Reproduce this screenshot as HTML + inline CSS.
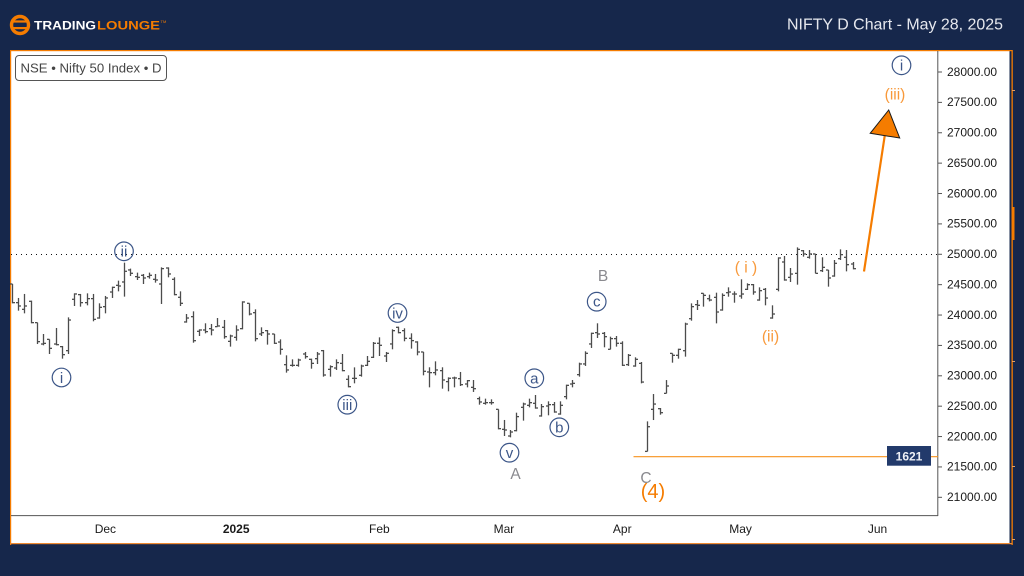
<!DOCTYPE html>
<html lang="en">
<head>
<meta charset="utf-8">
<title>NIFTY D Chart - May 28, 2025</title>
<style>
html,body{margin:0;padding:0;width:1024px;height:576px;overflow:hidden;background:#16274b}
svg{display:block}
text{font-family:"Liberation Sans",sans-serif}
</style>
</head>
<body>
<svg id="chart" xmlns="http://www.w3.org/2000/svg" width="1024" height="576" viewBox="0 0 1024 576">
  <rect x="0" y="0" width="1024" height="576" fill="#16274b"/>

  <g>
    <circle cx="20" cy="25" r="8.5" fill="#16274b" stroke="#f57c00" stroke-width="3.4"/>
    <rect x="11" y="20.4" width="18" height="2.2" fill="#f57c00"/>
    <rect x="11" y="27" width="18" height="2.2" fill="#f57c00"/>
    <text x="34" y="29.3" font-size="12" font-weight="700" fill="#ffffff" textLength="62" lengthAdjust="spacingAndGlyphs">TRADING</text>
    <text x="97" y="29.3" font-size="12" font-weight="700" fill="#f57c00" textLength="63" lengthAdjust="spacingAndGlyphs">LOUNGE</text>
    <text x="160.5" y="23" font-size="4" fill="#f57c00">TM</text>
  </g>
  <text x="787" y="29.5" font-size="16" fill="#e6e8ee" textLength="216" lengthAdjust="spacingAndGlyphs">NIFTY D Chart - May 28, 2025</text>

  <g>
    <rect x="1011.5" y="50" width="1.3" height="495" fill="#f57c00"/>
    <rect x="1011.5" y="207" width="3" height="33" fill="#f57c00"/>
    <rect x="1012" y="90" width="3" height="1" fill="#e8a060"/>
    <rect x="1012" y="361" width="3" height="1" fill="#e8a060"/>
    <rect x="1012" y="466" width="3" height="1" fill="#e8a060"/>
    <rect x="1012" y="539" width="3" height="1" fill="#e8a060"/>
  </g>

  <rect x="11" y="50.5" width="998.5" height="492.5" fill="#ffffff"/>
  <rect x="10" y="50" width="1002.5" height="1.2" fill="#f57c00"/>
  <rect x="10" y="50" width="1.2" height="495" fill="#f57c00"/>
  <rect x="10" y="543" width="1002.5" height="1.2" fill="#f08a30"/>

  <line x1="11" y1="254.5" x2="938" y2="254.5" stroke="#111" stroke-width="1" stroke-dasharray="1 4"/>

  <g id="bars"></g>

  <line x1="937.8" y1="51" x2="937.8" y2="516" stroke="#555" stroke-width="1"/>
  <line x1="11" y1="515.6" x2="938" y2="515.6" stroke="#555" stroke-width="1"/>
  <g id="yaxis"></g>
  <g id="xaxis"></g>

  <g>
    <rect x="15.5" y="55.5" width="151" height="25" rx="3.5" fill="#fff" stroke="#555" stroke-width="1"/>
    <text x="20.5" y="72.5" font-size="12.5" fill="#444" textLength="141" lengthAdjust="spacingAndGlyphs">NSE • Nifty 50 Index • D</text>
  </g>

  <line x1="633.5" y1="456.7" x2="938" y2="456.7" stroke="#f7931e" stroke-width="1.2"/>
  <rect x="887" y="446" width="44" height="19.7" fill="#223a6b"/>
  <text x="909" y="460.3" font-size="12" font-weight="700" fill="#eef0f5" text-anchor="middle">1621</text>

  <line x1="864" y1="271.5" x2="885" y2="134" stroke="#f57c00" stroke-width="2.2"/>
  <polygon points="888.7,110 870.2,133.3 899.7,138" fill="#f57c00" stroke="#1a1a1a" stroke-width="1"/>

  <g fill="none" stroke="#3c5688" stroke-width="1.2">
    <circle cx="61.5" cy="377.5" r="9.3"/>
    <circle cx="124" cy="251.3" r="9.3"/>
    <circle cx="347.3" cy="404.7" r="9.3"/>
    <circle cx="397.5" cy="313" r="9.3"/>
    <circle cx="509.5" cy="452.7" r="9.3"/>
    <circle cx="534.3" cy="378.3" r="9.3"/>
    <circle cx="559.3" cy="427.3" r="9.3"/>
    <circle cx="596.7" cy="301.7" r="9.3"/>
    <circle cx="901.5" cy="65.3" r="9.3"/>
  </g>
  <g fill="#3c5688" font-size="15" text-anchor="middle">
    <text x="61.5" y="382.8">i</text>
    <text x="124" y="256.6">ii</text>
    <text x="347.3" y="410">iii</text>
    <text x="397.5" y="318.3">iv</text>
    <text x="509.5" y="458">v</text>
    <text x="534.3" y="383.3">a</text>
    <text x="559.3" y="432.6">b</text>
    <text x="596.7" y="306.7">c</text>
    <text x="901.5" y="70.6">i</text>
  </g>
  <g fill="#f8993a" font-size="15.5" text-anchor="middle">
    <text x="746" y="272.5">( i )</text>
    <text x="770.5" y="341.5">(ii)</text>
    <text x="895" y="99.5">(iii)</text>
    <text x="653" y="498" font-size="20" fill="#f57c00">(4)</text>
  </g>
  <g fill="#8a8a8f" font-size="15.5" text-anchor="middle">
    <text x="515.5" y="479">A</text>
    <text x="603" y="281">B</text>
    <text x="646" y="483">C</text>
  </g>
</svg>

<script>
const opens = [24511,24204,24094,24226,23875,23523,23600,23523,23480,23414,24259,24336,24204,24270,23951,24138,24379,24489,24544,24742,24632,24654,24632,24588,24511,24774,24588,24292,23886,23973,23732,
23754,23776,23809,23798,23567,23633,23776,24193,24039,23688,23743,23688,23556,23183,23172,23172,23359,23271,23282,23414,23106,23128,23205,22942,22958,23008,23172,23304,23535,23326,23524,23798,
23743,23617,23557,23392,23063,23052,23085,22904,22964,22953,22865,22810,22624,22547,22558,22448,22119,22009,22097,22481,22514,22547,22339,22503,22525,22371,22657,22865,23019,23195,23524,23710,23699,23436,23612,23535,23184,23161,
23205,21756,22448,22459,22711,23369,23337,23413,23940,24171,24357,24269,24291,24083,24368,24346,24313,24423,24500,24247,24423,23951,24423,24873,24620,24686,25059,24950,25005,24730,24741,24642,24928,24950,24840];
const highs = [24511,24281,24347,24237,23875,23688,23600,23787,23491,23962,24357,24347,24357,24347,24193,24314,24467,24566,24862,24764,24698,24676,24698,24676,24785,24785,24621,24390,24017,24061,23765,
23864,23853,23951,23919,23677,23831,24226,24193,24094,23798,23754,23688,23600,23337,23271,23282,23392,23282,23392,23425,23172,23271,23359,23008,23139,23183,23326,23556,23633,23392,23765,23809,
23782,23699,23568,23392,23140,23238,23140,22975,22986,23063,22931,22931,22657,22624,22613,22448,22273,22108,22393,22558,22624,22684,22536,22580,22569,22580,22854,22931,23216,23403,23710,23864,23721,23644,23655,23568,23359,23304,
23227,22250,22700,22470,22930,23369,23446,23874,24192,24247,24357,24335,24368,24357,24456,24390,24588,24522,24511,24456,24445,24160,24950,24972,24774,25114,25070,25070,25005,24950,24741,24906,25081,25070,24873];
const lows = [24193,24072,24028,23864,23523,23502,23359,23502,23282,23359,24149,24138,24160,23897,23940,24028,24281,24390,24303,24643,24577,24511,24599,24533,24182,24621,24325,24149,23875,23545,23655,
23699,23666,23809,23611,23480,23578,23765,23995,23567,23655,23513,23524,23348,23052,23150,23150,23282,23117,23194,22986,22986,23096,23074,22810,22876,22986,23161,23293,23326,23227,23436,23699,
23568,23447,23337,23008,22810,23008,22788,22745,22810,22832,22810,22734,22525,22525,22525,22119,22009,21987,22086,22262,22481,22459,22328,22350,22393,22360,22613,22810,22986,23162,23458,23622,23469,23436,23480,23162,23162,23150,
22876,21756,22272,22360,22711,23216,23282,23315,23907,24083,24138,24225,23863,24072,24302,24203,24269,24412,24335,24236,24160,23940,24390,24566,24544,24500,24961,24928,24686,24708,24467,24631,24906,24719,24752];
const closes = [24204,24149,24149,23875,23562,23534,23452,23512,23348,23918,24347,24204,24270,23929,24127,24281,24456,24478,24720,24687,24621,24610,24654,24577,24764,24676,24336,24193,23951,23578,23754,
23727,23754,23820,23644,23655,23754,24215,24017,23611,23710,23688,23535,23436,23096,23172,23260,23315,23205,23359,23013,23150,23216,23085,22821,22958,23161,23238,23535,23502,23370,23743,23710,
23617,23579,23392,23074,23052,23096,22931,22959,22964,22854,22920,22788,22569,22558,22558,22130,22108,22075,22328,22536,22558,22470,22492,22525,22404,22514,22843,22876,23195,23370,23699,23688,23644,23612,23535,23173,23337,23271,
22897,22162,22535,22393,22832,23337,23435,23852,24138,24160,24324,24247,24050,24324,24379,24346,24346,24500,24379,24401,24280,24017,24939,24577,24675,25081,25005,25005,24686,24785,24610,24851,24994,24829,24763];

const yTickValues = [28000,27500,27000,26500,26000,25500,25000,24500,24000,23500,23000,22500,22000,21500,21000];
const xTickLabels = ["Dec","2025","Feb","Mar","Apr","May","Jun"];
const xTickBars = [15,36,59,79,98,117,139];

const SVGNS = "http://www.w3.org/2000/svg";
function xAt(i){ return 12 + i * 6.227; }
function yAt(p){ return 72 + (28000 - p) * 0.06076; }
function make(tag, attrs, parent){
  const el = document.createElementNS(SVGNS, tag);
  for (const k in attrs) el.setAttribute(k, attrs[k]);
  parent.appendChild(el);
  return el;
}

const barsG = document.getElementById("bars");
opens.forEach(function(o, i){
  const x = Math.round(xAt(i)) + 0.5;
  const g = make("g", {stroke:"#4c4c4c", "stroke-width":"1.3"}, barsG);
  
  
  make("line", {x1:x, x2:x, y1:yAt(highs[i]), y2:yAt(lows[i])}, g);
  make("line", {x1:x-2.5, x2:x, y1:yAt(o), y2:yAt(o)}, g);
  make("line", {x1:x, x2:x+2.5, y1:yAt(closes[i]), y2:yAt(closes[i])}, g);
});

const yG = document.getElementById("yaxis");
yTickValues.forEach(function(v){
  const y = yAt(v);
  const t = make("line", {x1:938, x2:942, y1:y, y2:y, stroke:"#555", "stroke-width":"1"}, yG);
  
  
  const l = make("text", {x:947, y:y+3.8, "font-size":"12", fill:"#1a1a1a"}, yG);
  
  
  l.textContent = v.toFixed(2);
});

const xG = document.getElementById("xaxis");
xTickLabels.forEach(function(lab, i){
  const l = make("text", {x:xAt(xTickBars[i]), y:533.2, "font-size":"12", fill:"#1a1a1a", "text-anchor":"middle", "font-weight": lab === "2025" ? "700" : "400"}, xG);
  
  
  l.textContent = lab;
});
</script>
</body>
</html>
